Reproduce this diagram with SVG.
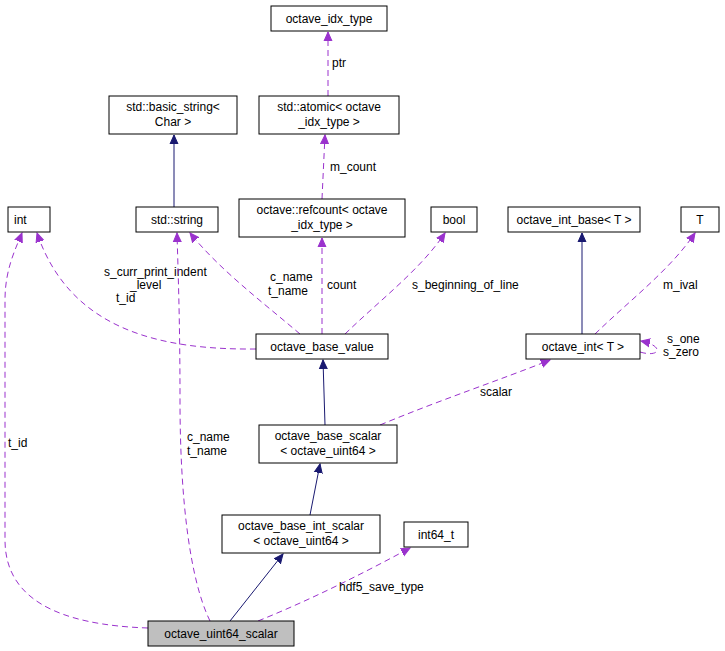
<svg xmlns="http://www.w3.org/2000/svg" width="725" height="651" viewBox="0 0 725 651">
<style>
.n rect{fill:#fff;stroke:#000;stroke-width:1}
text{font-family:"Liberation Sans",Arial,sans-serif;font-size:12px;fill:#000}
.c{text-anchor:middle}
.d{fill:none;stroke:#9a32cd;stroke-dasharray:6,4}
.s{fill:none;stroke:#191970}
</style>
<defs>
<marker id="mp" markerWidth="10" markerHeight="10" refX="9" refY="5" orient="auto" markerUnits="userSpaceOnUse"><path d="M0,1L9,5L0,9z" fill="#9a32cd" stroke="#9a32cd"/></marker>
<marker id="mn" markerWidth="10" markerHeight="10" refX="9" refY="5" orient="auto" markerUnits="userSpaceOnUse"><path d="M0,1L9,5L0,9z" fill="#191970" stroke="#191970"/></marker>
</defs>
<g id="edges">
<path class="d" marker-end="url(#mp)" d="M328,96 L328,32"/>
<text x="332" y="67">ptr</text>
<path class="d" marker-end="url(#mp)" d="M322,199 L325,135"/>
<text x="330" y="171">m_count</text>
<path class="s" marker-end="url(#mn)" d="M174,207 L174,135"/>
<path class="d" marker-end="url(#mp)" d="M256,349 C160,350 70,330 37,233"/>
<text x="104" y="276">s_curr_print_indent</text>
<text x="130" y="289">_level</text>
<text x="116" y="302">t_id</text>
<path class="d" marker-end="url(#mp)" d="M300,334 C260,300 220,270 190,233"/>
<text x="270" y="281">c_name</text>
<text x="268" y="295">t_name</text>
<path class="d" marker-end="url(#mp)" d="M322,334 L322,238"/>
<text x="327" y="289">count</text>
<path class="d" marker-end="url(#mp)" d="M345,334 C380,300 420,270 445,233"/>
<text x="412" y="289">s_beginning_of_line</text>
<path class="s" marker-end="url(#mn)" d="M582,334 L582,233"/>
<path class="d" marker-end="url(#mp)" d="M595,334 C630,300 670,270 695,233"/>
<text x="663" y="289">m_ival</text>
<path class="d" marker-end="url(#mp)" d="M640,352 C660,358 665,346 641,341"/>
<text x="667" y="343">s_one</text>
<text x="663" y="356">s_zero</text>
<path class="s" marker-end="url(#mn)" d="M325,425 L323,360"/>
<path class="d" marker-end="url(#mp)" d="M380,425 C440,400 500,380 550,360"/>
<text x="480" y="396">scalar</text>
<path class="s" marker-end="url(#mn)" d="M310,515 L320,464"/>
<path class="s" marker-end="url(#mn)" d="M230,621 L283,554"/>
<path class="d" marker-end="url(#mp)" d="M258,621 C310,600 360,575 410,548"/>
<text x="339" y="591">hdf5_save_type</text>
<path class="d" marker-end="url(#mp)" d="M148,628 C60,625 5,600 5,540 L5,300 C5,270 15,250 22,233"/>
<text x="8" y="447">t_id</text>
<path class="d" marker-end="url(#mp)" d="M210,621 C190,580 180,500 180,400 C180,320 178,270 177,233"/>
<text x="187" y="441">c_name</text>
<text x="187" y="455">t_name</text>
</g>
<g id="octave_idx_type" class="n"><rect x="271" y="6" width="116" height="25"/><text class="c" x="329" y="23">octave_idx_type</text></g>
<g id="atomic" class="n"><rect x="259" y="96" width="140" height="38"/><text class="c" x="329" y="111">std::atomic&lt; octave</text><text class="c" x="329" y="126">_idx_type &gt;</text></g>
<g id="basic_string" class="n"><rect x="109" y="96" width="128" height="38"/><text class="c" x="173" y="111">std::basic_string&lt;</text><text class="c" x="173" y="126">Char &gt;</text></g>
<g id="int" class="n"><rect x="8" y="207" width="42" height="25"/><text x="14" y="224">int</text></g>
<g id="string" class="n"><rect x="136" y="207" width="82" height="25"/><text class="c" x="177" y="224">std::string</text></g>
<g id="refcount" class="n"><rect x="239" y="199" width="166" height="38"/><text class="c" x="322" y="214">octave::refcount&lt; octave</text><text class="c" x="322" y="229">_idx_type &gt;</text></g>
<g id="bool" class="n"><rect x="431" y="207" width="46" height="25"/><text class="c" x="454" y="224">bool</text></g>
<g id="octave_int_base" class="n"><rect x="508" y="207" width="132" height="25"/><text class="c" x="574" y="224">octave_int_base&lt; T &gt;</text></g>
<g id="T" class="n"><rect x="681" y="207" width="38" height="25"/><text class="c" x="700" y="224">T</text></g>
<g id="octave_base_value" class="n"><rect x="256" y="334" width="132" height="25"/><text class="c" x="322" y="351">octave_base_value</text></g>
<g id="octave_int" class="n"><rect x="526" y="334" width="114" height="25"/><text class="c" x="583" y="351">octave_int&lt; T &gt;</text></g>
<g id="octave_base_scalar" class="n"><rect x="259" y="425" width="138" height="38"/><text class="c" x="328" y="440">octave_base_scalar</text><text class="c" x="328" y="455">&lt; octave_uint64 &gt;</text></g>
<g id="octave_base_int_scalar" class="n"><rect x="222" y="515" width="158" height="38"/><text class="c" x="301" y="530">octave_base_int_scalar</text><text class="c" x="301" y="545">&lt; octave_uint64 &gt;</text></g>
<g id="int64_t" class="n"><rect x="404" y="522" width="64" height="25"/><text class="c" x="436" y="539">int64_t</text></g>
<g id="octave_uint64_scalar" class="n"><rect x="148" y="621" width="146" height="25" style="fill:#bfbfbf"/><text class="c" x="221" y="638">octave_uint64_scalar</text></g>
</svg>
